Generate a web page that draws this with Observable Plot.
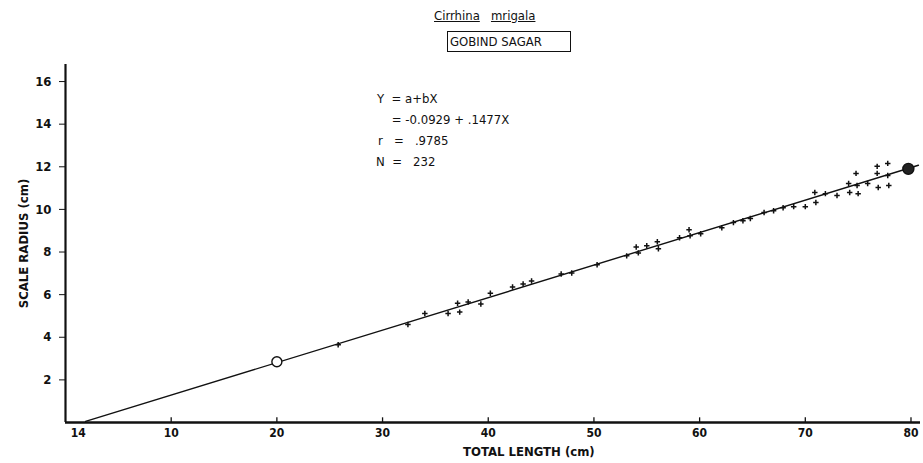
<!DOCTYPE html>
<html>
<head>
<meta charset="utf-8">
<script src="https://cdn.jsdelivr.net/npm/d3@7"></script>
<script src="https://cdn.jsdelivr.net/npm/@observablehq/plot@0.6"></script>
<style>
  html, body { margin: 0; padding: 0; background: #fff; }
  #wrap { position: relative; width: 923px; height: 463px; font-family: "DejaVu Sans Condensed", "Liberation Sans Narrow", sans-serif; color: #111; }
  #wrap svg { position: absolute; left: 0; top: 0; }
  .ov { position: absolute; white-space: nowrap; line-height: 1; }
  .title span { text-decoration: underline; }
  .box { border: 1.5px solid #111; padding: 3px 28px 3px 2px; }
</style>
</head>
<body>
<div id="wrap"></div>
<script>
const lengthX = [25.8, 32.4, 34.0, 36.2, 37.1, 37.3, 38.1, 39.3, 40.2, 42.3, 43.3, 44.1,
  46.9, 47.9, 50.3, 53.1, 54.0, 54.2, 55.0, 56.0, 56.1, 58.1, 59.0, 59.1, 60.1,
  62.1, 63.2, 64.1, 64.8, 66.1, 67.0, 67.9, 68.9, 70.0, 70.9, 71.0, 71.9, 73.0,
  74.1, 74.2, 74.8, 74.9, 75.0, 75.9, 76.8, 76.8, 76.9, 77.8, 77.8, 77.9];
const radiusY = [3.65, 4.6, 5.12, 5.12, 5.6, 5.18, 5.65, 5.56, 6.07, 6.36, 6.5, 6.64,
  6.97, 7.02, 7.4, 7.82, 8.24, 7.96, 8.29, 8.48, 8.15, 8.67, 9.05, 8.76, 8.86,
  9.14, 9.38, 9.47, 9.57, 9.85, 9.94, 10.08, 10.13, 10.13, 10.79, 10.32, 10.74, 10.65,
  11.22, 10.79, 11.69, 11.12, 10.74, 11.22, 12.02, 11.69, 11.03, 12.16, 11.59, 11.12];
// Fitted regression line end points
const fitX = [1.9, 80.7];
const fitY = [0.05, 12.07];
// Highlighted points: open circle and filled circle
const openPt = [{x: 20.0, y: 2.85}];
const filledPt = [{x: 79.75, y: 11.9}];
// Tick values and labels
const xTickVals = [1.2, 10, 20, 30, 40, 50, 60, 70, 80];
const xTickLabels = ["14", "10", "20", "30", "40", "50", "60", "70", "80"];
const yTickVals = [2, 4, 6, 8, 10, 12, 14, 16];

const points = lengthX.map((x, i) => ({x, y: radiusY[i]}));
const fit = fitX.map((x, i) => ({x, y: fitY[i]}));
const xLab = new Map(xTickVals.map((v, i) => [v, xTickLabels[i]]));

const plot = Plot.plot({
  width: 923,
  height: 463,
  marginLeft: 65,
  marginRight: 3,
  marginTop: 64,
  marginBottom: 41,
  style: {fontFamily: '"DejaVu Sans Condensed", "Liberation Sans Narrow", sans-serif', fontSize: "11px", fontWeight: "bold", color: "#111", background: "#fff"},
  x: {domain: [0, 80.9]},
  y: {domain: [0, 16.8]},
  marks: [
    Plot.axisX({ticks: xTickVals, tickFormat: d => xLab.get(d), tickSize: 0, tickPadding: 6, label: null, fontSize: 12}),
    Plot.axisY({ticks: yTickVals, tickSize: 6, tickPadding: 8, label: "SCALE RADIUS (cm)", labelAnchor: "center", labelArrow: "none", labelOffset: 47, fontSize: 13}),
    Plot.ruleX(xTickVals.slice(1), {y1: 0, y2: 0.22, strokeWidth: 1.3, stroke: "#111"}),
    Plot.ruleX([0], {y1: 0, y2: 16.8, strokeWidth: 2.2, stroke: "#111"}),
    Plot.ruleY([0], {x1: 0, x2: 80.9, strokeWidth: 2.4, stroke: "#111"}),
    Plot.line(fit, {x: "x", y: "y", stroke: "#111", strokeWidth: 1.4}),
    Plot.dot(points, {x: "x", y: "y", symbol: "plus", r: 1.9, stroke: "#111", strokeWidth: 1.5}),
    Plot.dot(openPt, {x: "x", y: "y", r: 5, stroke: "#111", fill: "#fff", strokeWidth: 1.4}),
    Plot.dot(filledPt, {x: "x", y: "y", r: 5.5, stroke: "#111", fill: "#222", strokeWidth: 1.4})
  ]
});

const wrap = document.getElementById("wrap");
wrap.appendChild(plot);

function addText(html, left, top, size, cls, extra) {
  const d = document.createElement("div");
  d.className = "ov " + (cls || "");
  d.innerHTML = html;
  d.style.left = left + "px";
  d.style.top = top + "px";
  d.style.fontSize = size + "px";
  if (extra) Object.assign(d.style, extra);
  wrap.appendChild(d);
  return d;
}
addText('<span>Cirrhina</span>&nbsp;&nbsp;&nbsp;<span>mrigala</span>', 434, 9, 13, "title");
addText('GOBIND SAGAR', 447, 31, 13, "box");
addText('Y&nbsp;&nbsp;= a+bX', 377, 92, 13);
addText('&nbsp;&nbsp;&nbsp;&nbsp;= -0.0929 + .1477X', 377, 113, 13);
addText('r&nbsp;&nbsp;&nbsp;=&nbsp;&nbsp;&nbsp;.9785', 378, 134, 13);
addText('N&nbsp;&nbsp;=&nbsp;&nbsp;&nbsp;232', 376, 155, 13);
addText('TOTAL LENGTH (cm)', 463, 445, 13, "", {fontWeight: "bold"});
</script>
</body>
</html>
